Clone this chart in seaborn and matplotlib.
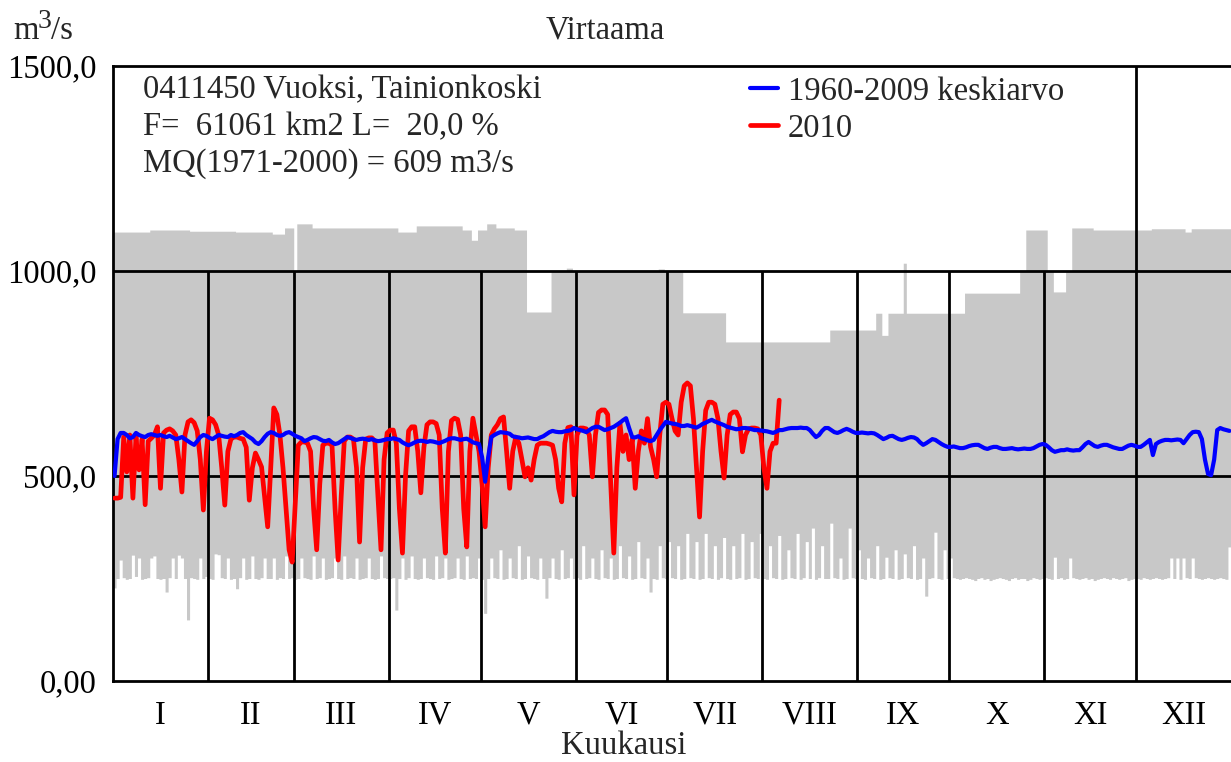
import numpy as np
import pandas as pd
import matplotlib
matplotlib.use("Agg")
import matplotlib.pyplot as plt
import seaborn as sns

# ---------------- data ----------------
MONTHS = ["I", "II", "III", "IV", "V", "VI", "VII", "VIII", "IX", "X", "XI", "XII"]
MONTH_DAYS = [31, 28, 31, 30, 31, 30, 31, 31, 30, 31, 30, 31]
Y_TICKS = [0, 500, 1000, 1500]
Y_TICK_LABELS = ["0,00", "500,0", "1000,0", "1500,0"]

# 1960-2009 daily maximum, as constant runs (first day, last day, value)
MAX_START = [1, 13, 26, 41, 53, 57, 60, 61, 66, 94, 100, 115, 118, 120, 123, 126, 132, 136, 144, 149,
             151, 179, 181, 187, 201, 235, 250, 252, 254, 259, 260, 279, 297, 299, 306, 308, 312, 314,
             321, 340, 351, 353]
MAX_END = [12, 25, 40, 52, 56, 59, 60, 65, 93, 99, 114, 117, 119, 122, 125, 131, 135, 143, 148, 150,
           178, 180, 186, 200, 234, 249, 251, 253, 258, 259, 278, 296, 298, 305, 307, 311, 313, 320,
           339, 350, 352, 365]
MAX_VALUE = [1095, 1100, 1097, 1095, 1090, 1105, 1000, 1115, 1105, 1095, 1110, 1100, 1075, 1100, 1115,
             1105, 1100, 900, 1000, 1007, 1000, 1005, 1000, 898, 827, 856, 897, 843, 897, 1019, 897,
             946, 1000, 1100, 1000, 949, 1000, 1105, 1100, 1103, 1095, 1103]

# 1960-2009 daily minimum
MIN_FLOW = [
    227, 250, 295, 252, 248, 250, 307, 255, 300, 248, 250, 252, 300, 305, 250, 248, 250, 217, 252, 300,
    250, 307, 300, 250, 149, 252, 250, 248, 300, 250, 255,
    250, 248, 310, 308, 252, 250, 300, 248, 250, 225, 252, 300, 248, 250, 305, 250, 248, 252, 300,
    250, 250, 300, 248, 252, 250, 305, 250, 252,
    248, 250, 300, 252, 250, 248, 305, 250, 252, 300, 248, 250, 252, 300, 250, 248, 305, 250, 252, 250,
    300, 248, 250, 252, 300, 250, 248, 250, 305, 252, 250,
    250, 252, 173, 250, 300, 248, 252, 305, 250, 248, 250, 300, 252, 250, 248, 305, 250, 252, 300, 248,
    250, 252, 300, 250, 248, 305, 250, 252, 250, 300,
    248, 165, 250, 300, 252, 250, 320, 248, 250, 300, 252, 250, 330, 248, 250, 305, 252, 250, 248, 300,
    250, 202, 252, 300, 250, 248, 320, 250, 252, 300, 250,
    252, 248, 330, 250, 252, 300, 250, 248, 320, 252, 250, 300, 248, 250, 330, 252, 250, 305, 248, 250,
    340, 252, 250, 300, 217, 250, 248, 330, 252, 250,
    340, 252, 250, 330, 248, 250, 360, 252, 250, 340, 248, 250, 360, 252, 250, 330, 248, 252, 350, 250,
    248, 330, 250, 252, 360, 248, 250, 340, 252, 250, 360,
    250, 248, 330, 252, 250, 355, 248, 250, 320, 252, 250, 360, 248, 252, 340, 250, 373, 248, 252, 330,
    250, 250, 385, 252, 250, 300, 248, 250, 373, 252, 250,
    320, 250, 248, 300, 252, 250, 330, 248, 250, 302, 252, 250, 320, 248, 250, 310, 252, 250, 330, 248,
    250, 300, 207, 250, 252, 363, 250, 248, 320, 250,
    300, 252, 250, 248, 250, 252, 250, 248, 245, 250, 252, 248, 250, 245, 248, 250, 252, 250, 248, 245,
    250, 252, 248, 250, 250, 245, 248, 252, 250, 248, 250,
    252, 250, 248, 302, 250, 252, 248, 250, 300, 252, 250, 248, 250, 252, 248, 250, 245, 248, 250, 252,
    250, 248, 252, 250, 248, 250, 252, 245, 248, 250,
    250, 248, 252, 250, 248, 250, 252, 250, 248, 250, 252, 300, 250, 300, 248, 300, 252, 250, 300, 252,
    250, 248, 250, 252, 250, 248, 250, 252, 250, 248, 327,
]

# 1960-2009 daily mean
MEAN_FLOW = [
    500, 590, 605, 605, 600, 592, 595, 605, 600, 597, 595, 600, 602, 600, 598, 600, 597, 595, 598, 594,
    590, 592, 595, 590, 585, 580, 576, 585, 595, 600, 598,
    593, 590, 595, 600, 598, 596, 595, 600, 597, 600, 605, 607, 600, 595, 590, 582, 578, 585, 595, 603,
    607, 605, 600, 598, 600, 605, 607, 603,
    598, 595, 592, 585, 588, 592, 595, 594, 590, 586, 585, 588, 582, 578, 580, 585, 590, 595, 593, 590,
    588, 590, 591, 590, 588, 590, 587, 585, 586, 588, 590,
    590, 592, 590, 588, 582, 578, 575, 578, 582, 585, 586, 585, 583, 585, 584, 582, 580, 583, 586, 590,
    592, 592, 590, 588, 590, 591, 587, 582, 580, 578,
    546, 486, 546, 595, 600, 604, 607, 606, 605, 603, 597, 595, 594, 592, 593, 594, 592, 590, 590, 594,
    597, 602, 607, 610, 608, 607, 607, 609, 610, 612, 617,
    614, 612, 610, 607, 612, 617, 620, 620, 616, 612, 614, 617, 620, 625, 630, 636, 641, 617, 595, 594,
    597, 592, 590, 587, 585, 588, 600, 612, 622, 632,
    630, 628, 627, 625, 622, 622, 624, 622, 620, 618, 622, 627, 630, 634, 637, 633, 630, 627, 624, 620,
    618, 616, 614, 615, 617, 617, 616, 614, 612, 612, 611,
    610, 609, 607, 605, 608, 612, 612, 614, 616, 617, 617, 617, 618, 617, 617, 612, 603, 595, 600, 610,
    617, 617, 612, 607, 605, 608, 612, 615, 612, 608, 605,
    605, 606, 605, 604, 605, 604, 600, 595, 590, 593, 597, 598, 594, 590, 588, 590, 593, 595, 594, 590,
    582, 576, 580, 585, 590, 588, 583, 578, 574, 571,
    571, 572, 570, 568, 568, 570, 573, 575, 576, 576, 572, 568, 566, 569, 571, 571, 568, 566, 566, 567,
    568, 566, 565, 566, 567, 566, 566, 568, 572, 576, 578,
    576, 570, 563, 559, 561, 563, 563, 565, 563, 562, 563, 563, 570, 578, 583, 578, 573, 571, 574, 576,
    576, 573, 570, 568, 566, 566, 570, 574, 576, 574,
    571, 571, 576, 582, 588, 551, 578, 583, 586, 588, 588, 587, 588, 589, 588, 580, 590, 600, 607, 608,
    607, 590, 540, 505, 502, 540, 612, 617, 614, 612, 610,
]

# 2010 daily flow (Jan 1 - Aug 6)
FLOW_2010 = [
    446, 446, 448, 595, 510, 600, 446, 595, 515, 590,
    430, 585, 592, 600, 620, 470, 605, 612, 615, 610,
    600, 540, 461, 600, 632, 637, 630, 610, 540, 417,
    560, 641, 637, 625, 600, 520, 429, 560, 590, 595,
    595, 592, 590, 570, 441, 520, 556, 540, 522, 450,
    376, 520, 666, 650, 600, 520, 420, 320, 290, 430,
    575, 583, 583, 580, 560, 420, 320, 480, 575, 580,
    580, 575, 420, 295, 450, 585, 595, 595, 590, 520,
    339, 520, 590, 593, 593, 585, 450, 320, 540, 605,
    612, 612, 580, 420, 312, 500, 610, 620, 620, 560,
    459, 570, 625, 632, 632, 628, 600, 420, 312, 560,
    635, 641, 638, 600, 420, 327, 560, 641, 600, 560,
    480, 376, 520, 600, 615, 625, 640, 644, 560, 470,
    560, 595, 580, 540, 498, 520, 490, 540, 575, 580,
    580, 580, 578, 575, 540, 470, 437, 580, 618, 620,
    454, 600, 617, 617, 615, 600, 498, 600, 655, 661,
    661, 650, 480, 312, 520, 629, 560, 600, 540, 590,
    470, 560, 610, 580, 640, 571, 540, 498, 600, 675,
    680, 675, 640, 610, 600, 680, 720, 727, 720, 640,
    520, 400, 560, 660, 680, 680, 675, 640, 560, 495,
    600, 650, 656, 656, 640, 559, 600, 615, 617, 617,
    615, 600, 520, 470, 560, 580, 580, 685,
]

LABEL_MEAN = "1960-2009 keskiarvo"
LABEL_2010 = "2010"

# ---------------- style ----------------
sns.set_style("white")
plt.rcParams["font.family"] = ["Liberation Serif", "DejaVu Serif"]
FS = 23.5
LW = 2.0

W, H = 1231, 762
fig = plt.figure(figsize=(W / 100, H / 100), dpi=100)
L, R, B, T = 113, 1231, 681, 66
ax = fig.add_axes([L / W, 1 - B / H, (R - L) / W, (B - T) / H])

n_days = sum(MONTH_DAYS)
bounds = np.concatenate([[0], np.cumsum(MONTH_DAYS)])
centers = (bounds[:-1] + bounds[1:]) / 2

# max envelope from runs
max_daily = np.zeros(n_days)
for s, e, v in zip(MAX_START, MAX_END, MAX_VALUE):
    max_daily[s - 1:e] = v
min_daily = np.array(MIN_FLOW[:n_days], dtype=float)
edges = np.arange(0, len(min_daily) + 1)
ax.fill_between(edges, np.append(min_daily, min_daily[-1]),
                np.append(max_daily[:len(min_daily)], max_daily[len(min_daily) - 1]),
                step="post", color="#c8c8c8", lw=0, zorder=1)

# grid lines
ax.axhline(500, color="black", lw=LW, zorder=2)
ax.axhline(1000, color="black", lw=LW, zorder=2)
ax.vlines(bounds[1:11], 0, 1000, color="black", lw=LW, zorder=2)
ax.vlines(bounds[11], 0, 1500, color="black", lw=LW, zorder=2)

df_mean = pd.DataFrame({"day": np.arange(1, len(MEAN_FLOW) + 1) - 0.5, "q": MEAN_FLOW})
df_2010 = pd.DataFrame({"day": np.arange(1, len(FLOW_2010) + 1) - 0.5, "q": FLOW_2010})
sns.lineplot(data=df_2010, x="day", y="q", ax=ax, color="#ff0000", lw=3.4, zorder=3,
             label=LABEL_2010, estimator=None, sort=False)
sns.lineplot(data=df_mean, x="day", y="q", ax=ax, color="#0000ff", lw=3.0, zorder=4,
             label=LABEL_MEAN, estimator=None, sort=False)

ax.set_xlim(0, n_days)
ax.set_ylim(0, 1500)

# axes styling
for side in ["left", "bottom", "top"]:
    ax.spines[side].set_color("black")
    ax.spines[side].set_linewidth(LW)
ax.spines["right"].set_visible(False)

ax.set_yticks(Y_TICKS)
ax.set_yticklabels(Y_TICK_LABELS, fontsize=FS)
ax.set_yticks(np.arange(100, 1500, 100), minor=True)
ax.tick_params(axis="y", which="both", direction="in", length=7, width=LW, pad=12, colors="black")

ax.set_xticks(centers)
ax.set_xticklabels(MONTHS, fontsize=FS)
ax.set_xticks(bounds, minor=True)
ax.tick_params(axis="x", which="major", length=0, pad=14, labelcolor="black")
ax.tick_params(axis="x", which="minor", direction="out", length=3, width=LW, colors="black")
ax.set_xlabel("")
ax.set_ylabel("")
ax.grid(False)

# texts
fig.text(605 / W, 1 - 30 / H, "Virtaama", fontsize=FS, ha="center", va="center")
fig.text(13 / W, 1 - 31 / H, "m", fontsize=FS, ha="left", va="center")
fig.text(38 / W, 1 - 22 / H, "3", fontsize=FS * 0.85, ha="left", va="center")
fig.text(51 / W, 1 - 31 / H, "/s", fontsize=FS, ha="left", va="center")
fig.text(624 / W, 1 - 746 / H, "Kuukausi", fontsize=FS, ha="center", va="center")

info = ["0411450 Vuoksi, Tainionkoski",
        "F=  61061 km2 L=  20,0 %",
        "MQ(1971-2000) = 609 m3/s"]
for i, line in enumerate(info):
    ax.text((143 - L) / (R - L), (B - (90 + 37 * i)) / (B - T), line, transform=ax.transAxes,
            fontsize=FS, ha="left", va="center")

handles, labels = ax.get_legend_handles_labels()
order = [labels.index(LABEL_MEAN), labels.index(LABEL_2010)]
leg = ax.legend([handles[i] for i in order], [labels[i] for i in order],
                loc="upper left", bbox_to_anchor=((750 - L) / (R - L), (B - 76) / (B - T)),
                frameon=False, fontsize=FS, handlelength=0.85, handletextpad=0.3,
                labelspacing=0.2, borderaxespad=0, borderpad=0)

fig.savefig("out.png", dpi=100)
